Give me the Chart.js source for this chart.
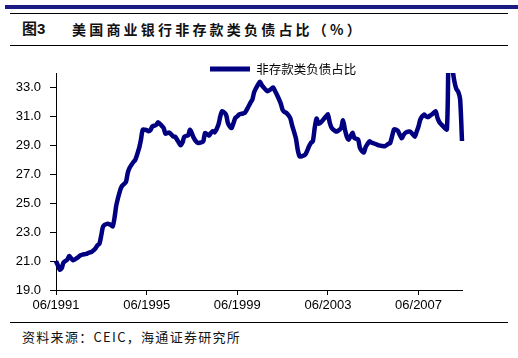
<!DOCTYPE html>
<html>
<head>
<meta charset="utf-8">
<script src="https://cdn.jsdelivr.net/npm/chart.js@4/dist/chart.umd.min.js"></script>
<style>
html,body{margin:0;padding:0;background:#fff;width:518px;height:358px;overflow:hidden;position:relative;}
.bar{position:absolute;left:5px;top:5px;width:513px;height:4px;background:#1b1b84;}
.rule{position:absolute;left:10px;width:498px;height:1px;background:#000;}
.title{position:absolute;top:20px;font-family:"Noto Sans CJK SC";font-weight:bold;font-size:14px;line-height:18px;color:#111;white-space:nowrap;}
.footer{position:absolute;left:22px;top:328px;font-family:"Noto Sans CJK SC";font-size:13px;line-height:18px;letter-spacing:1.3px;color:#111;white-space:nowrap;}
#wrap{position:absolute;left:0;top:50px;width:518px;height:270px;}
</style>
</head>
<body>
<div class="bar"></div>
<div class="rule" style="top:13px"></div>
<div class="title" style="left:22px;font-size:15px;font-family:'Liberation Sans','Noto Sans CJK SC';">图3</div>
<div class="title" style="left:72px;letter-spacing:3.2px;">美国商业银行非存款类负债占比（%）</div>
<div class="rule" style="top:45px"></div>
<div id="wrap"><canvas id="c"></canvas></div>
<div class="rule" style="top:322px"></div>
<div class="footer">资料来源：CEIC，海通证券研究所</div>
<script>
// ---- data ----
const seriesName = "非存款类负债占比";
const dates = [
"1991-06","1991-07","1991-08","1991-09","1991-10","1991-12","1992-01","1992-03","1992-05","1992-06",
"1992-07","1992-08","1992-10","1992-11","1993-01","1993-02","1993-03","1993-04","1993-05","1993-06",
"1993-07","1993-09","1993-11","1993-12","1994-01","1994-02","1994-04","1994-05","1994-07","1994-08",
"1994-09","1994-11","1994-12","1995-02","1995-03","1995-04","1995-06","1995-07","1995-08","1995-09",
"1995-11","1995-12","1996-02","1996-03","1996-04","1996-05","1996-06","1996-08","1996-09","1996-11",
"1996-12","1997-01","1997-02","1997-04","1997-05","1997-07","1997-08","1997-09","1997-11","1997-12",
"1998-01","1998-03","1998-04","1998-05","1998-06","1998-08","1998-09","1998-10","1998-12","1999-01",
"1999-02","1999-03","1999-05","1999-06","1999-07","1999-09","1999-10","1999-12","2000-01","2000-02",
"2000-03","2000-05","2000-06","2000-07","2000-08","2000-09","2000-10","2000-12","2001-01","2001-02",
"2001-03","2001-05","2001-06","2001-07","2001-08","2001-10","2001-11","2002-01","2002-02","2002-03",
"2002-04","2002-06","2002-08","2002-09","2002-10","2002-11","2002-12","2003-01","2003-02","2003-04",
"2003-05","2003-06","2003-07","2003-08","2003-10","2003-11","2004-01","2004-02","2004-03","2004-04",
"2004-05","2004-07","2004-08","2004-10","2004-11","2005-01","2005-02","2005-03","2005-04","2005-05",
"2005-07","2005-08","2005-09","2005-11","2005-12","2006-02","2006-03","2006-05","2006-06","2006-07",
"2006-09","2006-10","2006-11","2007-01","2007-02","2007-04","2007-05","2007-06","2007-07","2007-09",
"2007-10","2007-11","2007-12","2008-01","2008-03","2008-04","2008-05","2008-06","2008-07","2008-09",
"2008-10","2008-11","2008-12","2009-01","2009-02","2009-03","2009-04","2009-05"
];
const ratio = [
21.0,20.7,20.4,20.5,20.9,21.1,21.35,21.05,21.2,21.3,
21.4,21.45,21.5,21.55,21.65,21.75,21.9,22.1,22.2,22.8,
23.4,23.57,23.5,23.4,24.0,24.9,25.9,26.2,26.45,27.1,
27.45,27.85,28.0,28.8,29.4,30.09,30.05,29.97,30.05,30.3,
30.4,30.6,30.35,30.2,29.8,29.85,29.88,29.62,29.6,29.2,
29.0,29.2,29.6,29.7,30.07,29.5,29.3,29.17,29.2,29.28,
29.86,29.67,29.85,29.97,29.9,30.43,31.0,31.36,31.13,30.55,
30.3,30.2,30.9,31.0,31.13,31.2,31.24,31.7,31.95,32.17,
32.7,33.2,33.4,33.15,33.0,32.85,32.74,32.9,33.0,32.75,
32.5,31.9,31.45,31.3,31.24,30.9,30.4,29.5,28.7,28.24,
28.24,28.36,28.93,29.17,29.28,30.2,30.85,30.5,30.55,30.85,
31.0,31.13,30.55,30.2,29.97,29.97,30.2,30.73,30.09,29.6,
29.4,29.86,29.5,29.4,28.8,28.5,28.9,29.1,29.28,29.2,
29.1,29.05,29.0,28.95,28.93,29.1,29.17,30.1,30.09,30.0,
29.5,29.7,29.86,29.95,29.9,29.6,29.95,30.32,30.8,31.13,
31.0,30.95,31.05,31.13,31.36,30.9,30.6,30.45,30.32,30.1,
36.0,36.0,34.3,33.4,32.9,32.7,32.2,29.3
];
const tickLabels = ["06/1991","06/1995","06/1999","06/2003","06/2007"];
const yTicks = [19,21,23,25,27,29,31,33];
const yMin = 19, yMax = 34;
const xEnd = "2009-05";

// ---- helpers ----
function monthOffset(s){ // "YYYY-MM" -> months since 1991-06
  const [y,m] = s.split("-").map(Number);
  return (y-1991)*12 + (m-6);
}
function tickOffset(s){ // "MM/YYYY"
  const [m,y] = s.split("/").map(Number);
  return (y-1991)*12 + (m-6);
}
const SERIES_COLOR = "#000080";
const points = dates.map((d,i)=>({x:monthOffset(d), y:ratio[i]}));

const LEGEND_FONT = 12.5, LEGEND_BOX_H = 5;
const LEGEND_X = 210, LEGEND_Y = 19;
const legendShift = {
  id:'legendShift',
  afterLayout(chart){
    const lg = chart.legend;
    if(!lg || !lg.lineWidths) return;
    const pad = lg.options.labels.padding || 0;
    const itemH = Math.max(LEGEND_FONT, LEGEND_BOX_H);
    const lw = lg.lineWidths[0];
    const curX = (lg.left + pad + lg.right - lw)/2;
    const dx = LEGEND_X - curX;
    const curY = lg.top + pad + itemH/2;
    const dy = LEGEND_Y - curY;
    if(!isFinite(dx) || !isFinite(dy)) return;
    lg.left += dx; lg.right += dx; lg.top += dy; lg.bottom += dy;
  }
};

const tickFont = {family:"'Liberation Sans', Arial, sans-serif", size:13};

new Chart(document.getElementById('c'), {
  type:'line',
  data:{datasets:[{
    label:seriesName,
    data:points,
    borderColor:SERIES_COLOR,
    backgroundColor:SERIES_COLOR,
    borderWidth:4.5,
    pointRadius:0,
    tension:0.25,
    fill:false,
    clip:{left:3,top:0,right:3,bottom:3}
  }]},
  options:{
    responsive:true,
    maintainAspectRatio:false,
    animation:false,
    layout:{padding:{left:0,right:56,top:0.5,bottom:0}},
    plugins:{
      legend:{
        display:true,
        position:'top',
        labels:{
          boxWidth:40, boxHeight:LEGEND_BOX_H, padding:0,
          color:'#000',
          font:{family:"'Noto Sans CJK SC'", size:LEGEND_FONT},
          generateLabels(chart){
            const items = Chart.defaults.plugins.legend.labels.generateLabels(chart);
            items.forEach(it=>{it.lineWidth=0; it.fillStyle=SERIES_COLOR; it.strokeStyle=SERIES_COLOR;});
            return items;
          }
        }
      },
      tooltip:{enabled:false}
    },
    scales:{
      x:{
        type:'linear',
        min:0, max:monthOffset(xEnd),
        afterFit(s){ s.height = 30; },
        afterBuildTicks(s){ s.ticks = tickLabels.map(l=>({value:tickOffset(l)})); },
        ticks:{autoSkip:false, maxRotation:0, padding:3, color:'#000', font:tickFont,
          callback:(v,i)=>tickLabels[i]},
        grid:{drawOnChartArea:false, drawTicks:true, tickLength:5, color:'#000', lineWidth:1},
        border:{display:true, color:'#000', width:1}
      },
      y:{
        type:'linear',
        min:yMin, max:yMax,
        afterFit(s){ s.width = 56; },
        afterBuildTicks(s){ s.ticks = yTicks.map(v=>({value:v})); },
        ticks:{padding:9, color:'#000', font:tickFont, callback:(v)=>Number(v).toFixed(1)},
        grid:{drawOnChartArea:false, drawTicks:true, tickLength:6, color:'#000', lineWidth:1},
        border:{display:true, color:'#000', width:1}
      }
    }
  },
  plugins:[legendShift]
});
</script>
</body>
</html>
